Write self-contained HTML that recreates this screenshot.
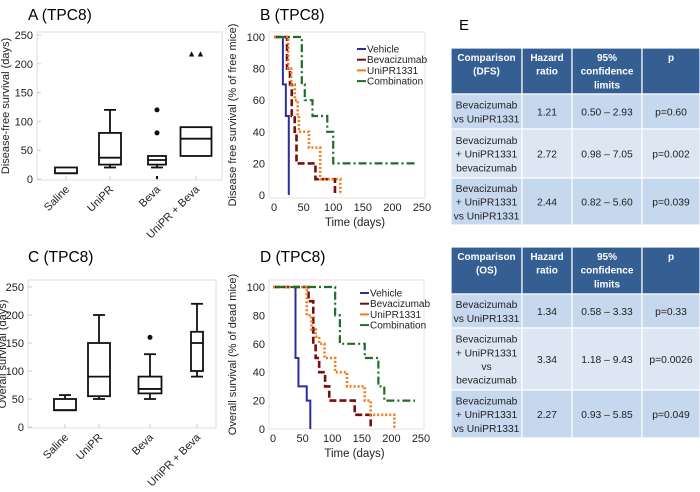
<!DOCTYPE html>
<html><head><meta charset="utf-8"><style>
body{margin:0;background:#fff;width:700px;height:487px;overflow:hidden;font-family:"Liberation Sans",sans-serif}
svg text{font-family:"Liberation Sans",sans-serif}
</style></head><body>
<svg id="s" width="700" height="487" viewBox="0 0 700 487" xmlns="http://www.w3.org/2000/svg">
<text x="28" y="20" font-size="15.5">A (TPC8)</text>
<text x="260" y="20" font-size="15.5">B (TPC8)</text>
<text x="28" y="262" font-size="15.5">C (TPC8)</text>
<text x="260" y="262" font-size="15.5">D (TPC8)</text>
<text x="459" y="30" font-size="15">E</text>
<g id="gA"></g><g id="gB"></g><g id="gC"></g><g id="gD"></g><g id="gE"></g>
</svg>
<script>
// ---- Box plot data ----
const boxCats = ["Saline","UniPR","Beva","UniPR + Beva"];
const dfsLow = [10,20,20,40];
const dfsQ1 = [10,25,25,40];
const dfsMed = [10,37,33,70];
const dfsQ3 = [20,80,40,90];
const dfsHigh = [20,120,40,90];
const dfsOutliers = [[],[],[0,80,120],[220]];
const osLow = [30,50,50,90];
const osQ1 = [30,55,60,100];
const osMed = [30,90,68,150];
const osQ3 = [50,150,90,170];
const osHigh = [57,200,130,220];
const osOutliers = [[],[],[160],[]];
const boxTicks = [0,50,100,150,200,250];
// ---- KM data ----
const kmTicksX = [0,50,100,150,200,250];
const kmTicksY = [0,20,40,60,80,100];
const legendNames = ["Vehicle","Bevacizumab","UniPR1331","Combination"];
const dfsVehT=[0,15,20,25], dfsVehS=[100,70,50,0];
const dfsBevT=[0,22,27,30,35,38,70,103], dfsBevS=[100,80,70,50,40,20,10,0];
const dfsUniT=[0,24,29,35,40,42,59,78,112], dfsUniS=[100,80,70,60,50,40,30,10,0];
const dfsComT=[5,47,52,65,90,100,240], dfsComS=[100,70,60,50,40,20,20];
const osVehT=[0,38,43,57,63], osVehS=[100,50,30,20,0];
const osBevT=[0,60,68,72,78,88,95,138,165], osBevS=[100,90,60,50,40,30,20,10,0];
const osUniT=[0,57,65,72,78,87,105,125,155,165,205], osUniS=[100,80,70,65,60,50,40,30,20,10,0];
const osComT=[5,105,113,155,178,188,240], osComS=[100,80,60,50,30,20,20];
// ---- Tables ----
const dfsRows=[["Bevacizumab|vs UniPR1331","1.21","0.50 – 2.93","p=0.60"],["Bevacizumab|+ UniPR1331|bevacizumab","2.72","0.98 – 7.05","p=0.002"],["Bevacizumab|+ UniPR1331|vs UniPR1331","2.44","0.82 – 5.60","p=0.039"]];
const osRows=[["Bevacizumab|vs UniPR1331","1.34","0.58 – 3.33","p=0.33"],["Bevacizumab|+ UniPR1331|vs|bevacizumab","3.34","1.18 – 9.43","p=0.0026"],["Bevacizumab|+ UniPR1331|vs UniPR1331","2.27","0.93 – 5.85","p=0.049"]];

const NS="http://www.w3.org/2000/svg";
function mk(parent,tag,attrs,txt){const e=document.createElementNS(NS,tag);for(const k in attrs)e.setAttribute(k,attrs[k]);if(txt!==undefined)e.textContent=txt;parent.appendChild(e);return e;}

function boxPanel(g,o,low,q1,med,q3,high,outl,ytitle,mark){
  const y=v=>o.y0-(v/250)*(o.y0-o.y250);
  const fr=mk(g,'rect',{x:o.l,y:o.t,width:o.r-o.l,height:o.b-o.t,fill:'none',stroke:'#ddd'});
  
  boxTicks.forEach(v=>{mk(g,'line',{x1:o.l,x2:o.l+4,y1:y(v),y2:y(v),stroke:'#ccc'});
    const t=mk(g,'text',{x:o.l-4,y:y(v)+4,'font-size':11,'text-anchor':'end',fill:'#222'},v);
    });
  const yt=mk(g,'text',{transform:`translate(${o.tx},${(o.t+o.b)/2}) rotate(-90)`,'font-size':11,'text-anchor':'middle',fill:'#222'},ytitle);
  
  boxCats.forEach((c,i)=>{
    const cx=o.cx[i],w=o.w[i];
    mk(g,'line',{x1:cx,x2:cx,y1:o.b,y2:o.b-4,stroke:'#ccc'});
    const bg=mk(g,'g',{stroke:'#111','stroke-width':1.8,fill:'none'});
    
    
    mk(bg,'line',{x1:cx,x2:cx,y1:y(high[i]),y2:y(q3[i])});
    mk(bg,'line',{x1:cx,x2:cx,y1:y(low[i]),y2:y(q1[i])});
    if(high[i]>q3[i])mk(bg,'line',{x1:cx-6,x2:cx+6,y1:y(high[i]),y2:y(high[i])});
    if(low[i]<q1[i])mk(bg,'line',{x1:cx-6,x2:cx+6,y1:y(low[i]),y2:y(low[i])});
    mk(bg,'rect',{x:cx-w/2,y:y(q3[i]),width:w,height:y(q1[i])-y(q3[i])});
    mk(bg,'line',{x1:cx-w/2,x2:cx+w/2,y1:y(med[i]),y2:y(med[i])});
    outl[i].forEach(v=>{
      let p;
      if(mark&&v>200){p=mk(g,'text',{x:cx,y:y(v)+4,'font-size':9,'text-anchor':'middle',fill:'#111'},'▲▲');}
      else if(v===0){p=mk(g,'rect',{x:cx-1,y:y(v)-3,width:2,height:3,fill:'#111'});}
      else p=mk(g,'circle',{cx:cx,cy:y(v),r:2.5,fill:'#111'});
      
    });
    const lx=cx+4,ly=o.b+10;
    const tl=mk(g,'text',{transform:`translate(${lx},${ly}) rotate(-45)`,'font-size':11,'text-anchor':'end',fill:'#222'},c);
    
  });
}
boxPanel(document.getElementById('gA'),{l:37,r:222,t:32,b:180,y0:179,y250:35,tx:9,cx:[66,110,157,196],w:[22,22,18,31]},dfsLow,dfsQ1,dfsMed,dfsQ3,dfsHigh,dfsOutliers,'Disease-free survival (days)',true);
boxPanel(document.getElementById('gC'),{l:28,r:216,t:280,b:428,y0:427,y250:287,tx:6,cx:[65,99,150,197],w:[22,22,23,12]},osLow,osQ1,osMed,osQ3,osHigh,osOutliers,'Overall survival (days)',false);

const styles=[{c:'#2b2f9e',d:'',w:2},{c:'#7a0d0d',d:'7 3',w:2.6},{c:'#f07a1e',d:'2 2',w:2.6},{c:'#1f6e26',d:'8 3 2 3',w:2.2}];
function kmPanel(g,o,series,ytitle){
  const x=t=>o.x0+t/250*(o.x250-o.x0), y=s=>o.y0-s/100*(o.y0-o.y100);
  const fr=mk(g,'rect',{x:o.l,y:o.t,width:o.r-o.l,height:o.b-o.t,fill:'none',stroke:'#f0dede'});
  
  kmTicksY.forEach(v=>{const t=mk(g,'text',{x:o.l-4,y:y(v)+4,'font-size':11,'text-anchor':'end',fill:'#222'},v);
    });
  kmTicksX.forEach(v=>{const t=mk(g,'text',{x:x(v),y:o.b+13,'font-size':11,'text-anchor':'middle',fill:'#222'},v);
    });
  const yt=mk(g,'text',{transform:`translate(${o.tx},${(o.t+o.b)/2}) rotate(-90)`,'font-size':11,'text-anchor':'middle',fill:'#222'},ytitle);
  
  const xt=mk(g,'text',{x:(o.l+o.r)/2+8,y:o.b+28,'font-size':11.5,'text-anchor':'middle',fill:'#222'},'Time (days)');
  
  series.forEach((sr,k)=>{
    const [T,S]=sr;let d=`M${x(T[0])},${y(S[0])}`;
    for(let i=1;i<T.length;i++)d+=` H${x(T[i])} V${y(S[i])}`;
    const p=mk(g,'path',{d:d,fill:'none',stroke:styles[k].c,'stroke-width':styles[k].w,'stroke-dasharray':styles[k].d});
    
    const ly=o.ly+k*10.7;
    const le=mk(g,'g',{});
    mk(le,'line',{x1:o.lx,x2:o.lx+9,y1:ly,y2:ly,stroke:styles[k].c,'stroke-width':2});
    mk(le,'text',{x:o.lx+10,y:ly+3.5,'font-size':10,fill:'#222'},legendNames[k]);
  });
}
kmPanel(document.getElementById('gB'),{l:269,r:425,t:32,b:198,x0:274,x250:422,y0:195,y100:37,tx:236,lx:357,ly:49},
  [[dfsVehT,dfsVehS],[dfsBevT,dfsBevS],[dfsUniT,dfsUniS],[dfsComT,dfsComS]],'Disease free survival (% of free mice)');
kmPanel(document.getElementById('gD'),{l:269,r:424,t:280,b:429,x0:273,x250:421,y0:429,y100:287,tx:236,lx:360,ly:293},
  [[osVehT,osVehS],[osBevT,osBevS],[osUniT,osUniS],[osComT,osComS]],'Overall survival (% of dead mice)');

function table(g,top,rowsY,hdr,rows){
  const cols=[451,522,572,642,700];
  const hdrTxt=[hdr,'Hazard|ratio','95%|confidence|limits','p'];
  const allY=[top].concat(rowsY);
  for(let r=0;r<allY.length-1;r++){
    const fill=r===0?'#355f92':(r===2?'#dde7f3':'#c6d8ee');
    for(let c=0;c<4;c++){
      const cell=mk(g,'rect',{x:cols[c],y:allY[r],width:cols[c+1]-cols[c],height:allY[r+1]-allY[r],fill:fill,stroke:'#fff','stroke-width':1.2});
      
      const txt=(r===0?hdrTxt[c]:rows[r-1][c]).split('|');
      const cx=(cols[c]+cols[c+1])/2, h=allY[r+1]-allY[r];
      const isH=r===0;
      const y0=isH?allY[r]+13:allY[r]+h/2-(txt.length-1)*6.8+4;
      txt.forEach((s,i)=>{mk(g,'text',{x:cx,y:y0+i*13.7,'font-size':isH?10:10.3,'font-weight':isH?'bold':'normal','text-anchor':'middle',fill:isH?'#fff':'#222'},s);});
    }
  }
}
table(document.getElementById('gE'),48,[94,129,178,225],'Comparison|(DFS)',dfsRows);
table(document.getElementById('gE'),247,[294,328,390,438],'Comparison|(OS)',osRows);
</script>
</body></html>
